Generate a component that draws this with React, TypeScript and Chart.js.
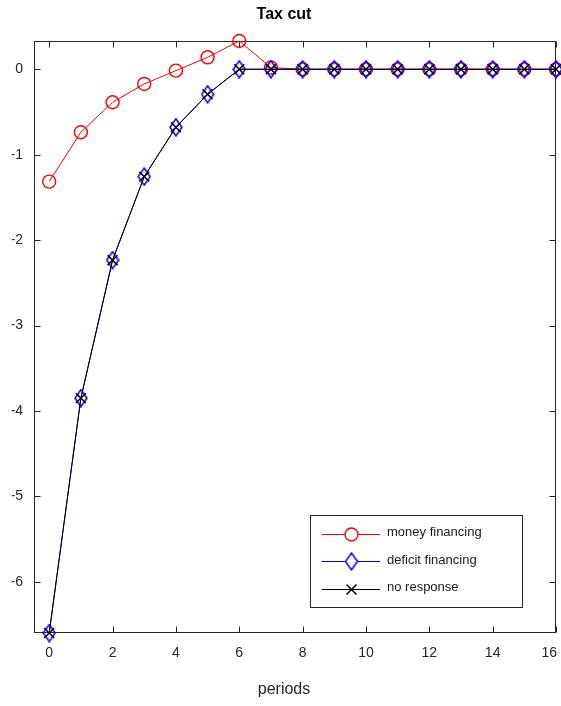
import React, { useEffect, useRef } from "react";
import { Chart, registerables } from "chart.js";

Chart.register(...registerables);

const periods = [0, 1, 2, 3, 4, 5, 6, 7, 8, 9, 10, 11, 12, 13, 14, 15, 16];
const moneyFinancing = [-1.315, -0.737, -0.386, -0.172, -0.016, 0.14, 0.331, 0.02, 0, 0, 0, 0, 0, 0, 0, 0, 0];
const deficitFinancing = [-6.6, -3.85, -2.235, -1.257, -0.679, -0.293, 0, 0, 0, 0, 0, 0, 0, 0, 0, 0, 0];
const noResponse = [-6.6, -3.85, -2.235, -1.257, -0.679, -0.293, 0, 0, 0, 0, 0, 0, 0, 0, 0, 0, 0];
const xTicks = [0, 2, 4, 6, 8, 10, 12, 14, 16];
const yTicks = [-6, -5, -4, -3, -2, -1, 0];
const seriesLabels = ["money financing", "deficit financing", "no response"];
const titleText = "Tax cut";
const xTitle = "periods";

const FONT = "'Liberation Sans', Arial, Helvetica, sans-serif";
const AXIS = "#262626";

function makeDiamond(): HTMLCanvasElement {
  const c = document.createElement("canvas");
  c.width = 14;
  c.height = 19;
  const g = c.getContext("2d")!;
  g.strokeStyle = "#0000ff";
  g.lineWidth = 1.5;
  g.beginPath();
  g.moveTo(7, 1);
  g.lineTo(13, 9.5);
  g.lineTo(7, 18);
  g.lineTo(1, 9.5);
  g.closePath();
  g.stroke();
  return c;
}

export default function App() {
  const ref = useRef<HTMLCanvasElement | null>(null);

  useEffect(() => {
    if (!ref.current) return;
    const diamond = makeDiamond();

    const boxPlugin = {
      id: "matlabBox",
      beforeDatasetsDraw(chart: any) {
        const { ctx, chartArea: a, scales } = chart;
        ctx.save();
        ctx.strokeStyle = AXIS;
        ctx.lineWidth = 1;
        const L = Math.round(a.left) + 0.5;
        const R = Math.round(a.right) - 0.5;
        const T = Math.round(a.top) + 0.5;
        const B = Math.round(a.bottom) - 0.5;
        ctx.strokeRect(L, T, R - L, B - T);
        const tl = 6;
        ctx.beginPath();
        for (const v of xTicks) {
          const x = Math.round(scales.x.getPixelForValue(v)) + 0.5;
          ctx.moveTo(x, B);
          ctx.lineTo(x, B - tl);
          ctx.moveTo(x, T);
          ctx.lineTo(x, T + tl);
        }
        for (const v of yTicks) {
          const y = Math.round(scales.y.getPixelForValue(v)) + 0.5;
          ctx.moveTo(L, y);
          ctx.lineTo(L + tl, y);
          ctx.moveTo(R, y);
          ctx.lineTo(R - tl, y);
        }
        ctx.stroke();

        // x tick labels (last one kept inside the figure, as MATLAB does)
        ctx.fillStyle = AXIS;
        ctx.font = `14px ${FONT}`;
        ctx.textAlign = "center";
        ctx.textBaseline = "middle";
        const maxRight = chart.width - 4;
        for (const v of xTicks) {
          const label = String(v);
          const w = ctx.measureText(label).width;
          let x = scales.x.getPixelForValue(v);
          if (x + w / 2 > maxRight) x = maxRight - w / 2;
          ctx.fillText(label, x, a.bottom + 20);
        }
        ctx.restore();
      },
    };

    const legendPlugin = {
      id: "matlabLegend",
      afterDatasetsDraw(chart: any) {
        const { ctx, chartArea: a } = chart;
        const left = a.right - 246;
        const right = a.right - 34;
        const top = a.bottom - 118;
        const bottom = a.bottom - 26;
        ctx.save();
        ctx.fillStyle = "#ffffff";
        ctx.fillRect(left, top, right - left, bottom - top);
        ctx.strokeStyle = AXIS;
        ctx.lineWidth = 1;
        ctx.strokeRect(Math.round(left) + 0.5, Math.round(top) + 0.5, Math.round(right - left), Math.round(bottom - top));
        const rows = [top + 18.5, top + 46, top + 73.5];
        const colors = ["#ff0000", "#0000ff", "#000000"];
        for (let i = 0; i < 3; i++) {
          const y = Math.round(rows[i]) + 0.5;
          const x0 = left + 11.5;
          const x1 = left + 70;
          const mx = left + 41.5;
          ctx.strokeStyle = colors[i];
          ctx.lineWidth = 1;
          ctx.beginPath();
          ctx.moveTo(x0, y);
          ctx.lineTo(x1, y);
          ctx.stroke();
          if (i === 0) {
            ctx.fillStyle = "#ffffff";
            ctx.lineWidth = 1.4;
            ctx.beginPath();
            ctx.arc(mx, y, 6.5, 0, Math.PI * 2);
            ctx.fill();
            ctx.stroke();
          } else if (i === 1) {
            ctx.fillStyle = "#ffffff";
            ctx.beginPath();
            ctx.moveTo(mx, y - 9);
            ctx.lineTo(mx + 6, y);
            ctx.lineTo(mx, y + 9);
            ctx.lineTo(mx - 6, y);
            ctx.closePath();
            ctx.fill();
            ctx.drawImage(diamond, mx - 7, y - 9.5);
          } else {
            ctx.lineWidth = 1.5;
            ctx.beginPath();
            ctx.moveTo(mx - 5, y - 5);
            ctx.lineTo(mx + 5, y + 5);
            ctx.moveTo(mx + 5, y - 5);
            ctx.lineTo(mx - 5, y + 5);
            ctx.stroke();
          }
          ctx.fillStyle = "#1a1a1a";
          ctx.font = `13px ${FONT}`;
          ctx.textBaseline = "middle";
          ctx.textAlign = "left";
          ctx.fillText(seriesLabels[i], left + 77, rows[i] - 1);
        }
        ctx.restore();
      },
    };

    const toXY = (arr: number[]) => periods.map((p, i) => ({ x: p, y: arr[i] }));

    const chart = new Chart(ref.current, {
      type: "line",
      data: {
        datasets: [
          {
            label: seriesLabels[0],
            data: toXY(moneyFinancing),
            borderColor: "#ff0000",
            borderWidth: 1,
            backgroundColor: "transparent",
            pointStyle: "circle",
            pointRadius: 6.5,
            pointBorderWidth: 1.4,
            pointBorderColor: "#ff0000",
            pointBackgroundColor: "transparent",
            clip: false,
            order: 2,
          } as any,
          {
            label: seriesLabels[1],
            data: toXY(deficitFinancing),
            borderColor: "#0000ff",
            borderWidth: 1,
            backgroundColor: "transparent",
            pointStyle: diamond,
            pointRadius: 8,
            clip: false,
            order: 1,
          } as any,
          {
            label: seriesLabels[2],
            data: toXY(noResponse),
            borderColor: "#000000",
            borderWidth: 1,
            backgroundColor: "transparent",
            pointStyle: "crossRot",
            pointRadius: 7,
            pointBorderWidth: 1.5,
            pointBorderColor: "#000000",
            clip: false,
            order: 0,
          } as any,
        ],
      },
      options: {
        responsive: false,
        animation: false,
        events: [],
        layout: { autoPadding: false, padding: { left: 12, right: 5, top: 0, bottom: 0 } },
        plugins: {
          legend: { display: false },
          tooltip: { enabled: false },
          title: {
            display: true,
            text: titleText,
            color: "#000000",
            font: { family: FONT, size: 16, weight: "bold" },
            padding: { top: 5.4, bottom: 16.4 },
          },
          subtitle: {
            display: true,
            position: "bottom",
            text: xTitle,
            color: "#262626",
            font: { family: FONT, size: 16, weight: "normal" },
            padding: { top: 0, bottom: 6.4 },
          },
        },
        scales: {
          x: {
            type: "linear",
            min: -0.48,
            max: 16,
            offset: false,
            grid: { display: false, drawTicks: false },
            border: { display: false },
            ticks: {
              display: false,
              font: { family: FONT, size: 14 },
              autoSkip: false,
            },
            afterBuildTicks: (s: any) => {
              s.ticks = xTicks.map((v) => ({ value: v }));
            },
            afterFit: (s: any) => {
              s.height = 47.4;
              s.paddingLeft = 0;
              s.paddingRight = 0;
            },
          },
          y: {
            type: "linear",
            min: -6.6,
            max: 0.331,
            grid: { display: false, drawTicks: false },
            border: { display: false },
            ticks: {
              color: AXIS,
              font: { family: FONT, size: 14 },
              padding: 11,
              autoSkip: false,
            },
            afterBuildTicks: (s: any) => {
              s.ticks = yTicks.map((v) => ({ value: v }));
            },
            afterFit: (s: any) => {
              s.width = 22;
              s.paddingTop = 0;
              s.paddingBottom = 0;
            },
          },
        },
      } as any,
      plugins: [boxPlugin, legendPlugin],
    });

    return () => chart.destroy();
  }, []);

  return (
    <canvas
      ref={ref}
      width={561}
      height={706}
      style={{ position: "absolute", left: 0, top: 0, width: 561, height: 706, background: "#fff" }}
    />
  );
}
